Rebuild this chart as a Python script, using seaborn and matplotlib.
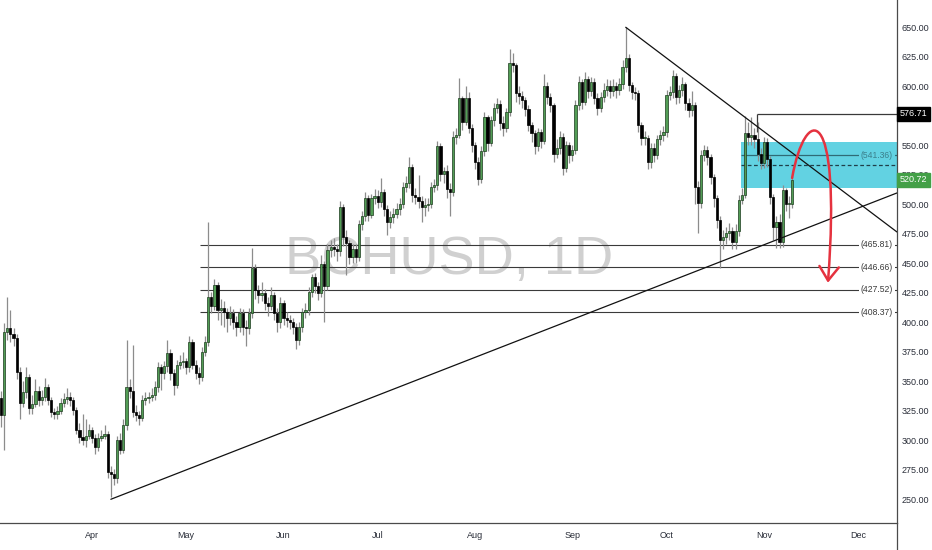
import numpy as np
import pandas as pd
import matplotlib
matplotlib.use("Agg")
import matplotlib.pyplot as plt
import matplotlib.dates as mdates
import matplotlib.transforms as mtransforms
from matplotlib.path import Path
from matplotlib.patches import FancyArrowPatch, Rectangle
from matplotlib.lines import Line2D
import seaborn as sns

# ---------------- data ----------------
start_date = "2021-03-03"
first_open = 336
closes = [
    321, 392, 395, 390, 387, 358, 332, 341, 354, 327,
    331, 342, 334, 337, 345, 334, 324, 322, 325, 332,
    335, 337, 334, 326, 309, 303, 300, 304, 309, 302,
    294, 302, 304, 305, 273, 271, 268, 300, 292, 313,
    345, 342, 324, 321, 319, 334, 336, 337, 338, 345,
    362, 357, 363, 374, 357, 347, 364, 366, 367, 362,
    383, 364, 357, 354, 375, 383, 421, 414, 432, 410,
    412, 409, 404, 408, 400, 396, 408, 396, 395, 408,
    446, 427, 423, 425, 416, 414, 423, 408, 400, 416,
    404, 402, 400, 396, 385, 396, 409, 410, 426, 438,
    431, 425, 449, 431, 461, 464, 462, 460, 498, 472,
    467, 455, 462, 455, 483, 490, 505, 491, 505, 507,
    502, 510, 496, 485, 489, 492, 496, 500, 515, 518,
    532, 508, 506, 503, 498, 499, 500, 515, 516, 549,
    526, 528, 513, 510, 557, 559, 590, 570, 590, 565,
    550, 536, 521, 545, 574, 552, 571, 582, 585, 569,
    565, 578, 620, 618, 594, 592, 588, 581, 567, 560,
    549, 561, 554, 600, 591, 584, 543, 548, 557, 531,
    550, 542, 546, 584, 604, 587, 606, 596, 604, 590,
    582, 591, 597, 600, 596, 600, 597, 602, 616, 624,
    601, 595, 594, 567, 556, 556, 536, 548, 542, 555,
    559, 561, 593, 595, 609, 591, 597, 602, 586, 580,
    584, 515, 501, 542, 546, 540, 523, 505, 487, 470,
    472, 476, 477, 468, 477, 504, 508, 560, 557, 559,
    555, 543, 535, 553, 538, 506, 481, 485, 468, 512,
    500, 500, 520.72,
]
highs = [
    342, 399, 421, 410, 395, 390, 362, 350, 362, 356,
    338, 352, 346, 343, 353, 348, 337, 327, 329, 336,
    340, 344, 341, 337, 328, 315, 322, 318, 314, 311,
    305, 306, 309, 313, 308, 278, 276, 304, 306, 318,
    385, 352, 381, 330, 325, 338, 341, 341, 344, 350,
    366, 365, 367, 385, 377, 360, 368, 372, 375, 370,
    388, 386, 368, 362, 379, 388, 485, 426, 437, 434,
    420, 418, 412, 414, 411, 405, 412, 411, 402, 412,
    463, 449, 432, 434, 428, 421, 430, 426, 412, 421,
    419, 409, 406, 404, 399, 400, 412, 416, 430, 441,
    442, 434, 457, 452, 466, 470, 471, 466, 503, 500,
    478, 470, 466, 466, 487, 494, 510, 508, 509, 513,
    512, 522, 513, 499, 494, 497, 501, 505, 519, 524,
    540, 534, 514, 525, 507, 505, 505, 519, 521, 554,
    552, 532, 533, 518, 562, 565, 607, 592, 600, 595,
    568, 553, 540, 549, 578, 576, 575, 586, 590, 588,
    575, 582, 632, 628, 620, 600, 596, 591, 584, 570,
    563, 565, 564, 610, 604, 594, 586, 555, 562, 560,
    554, 553, 550, 588, 609, 606, 612, 609, 608, 607,
    594, 595, 603, 606, 605, 606, 604, 607, 622, 650,
    627, 604, 599, 597, 570, 562, 559, 552, 552, 559,
    563, 566, 597, 600, 614, 611, 601, 608, 604, 590,
    596, 587, 520, 546, 550, 549, 543, 526, 508, 490,
    478, 481, 484, 481, 483, 508, 514, 575, 570, 574,
    565, 570, 548, 557, 556, 541, 509, 490, 492, 516,
    514, 507, 524,
]
lows = [
    311, 292, 385, 383, 380, 352, 318, 328, 336, 322,
    322, 328, 329, 330, 333, 330, 320, 318, 318, 322,
    328, 331, 329, 321, 305, 298, 296, 294, 301, 298,
    288, 291, 299, 301, 268, 252, 262, 264, 288, 289,
    309, 336, 320, 316, 313, 316, 330, 332, 333, 334,
    341, 343, 352, 358, 351, 338, 344, 360, 361, 356,
    358, 360, 352, 348, 350, 371, 380, 408, 410, 402,
    398, 396, 392, 398, 394, 388, 392, 389, 380, 390,
    404, 420, 416, 418, 410, 405, 410, 402, 392, 395,
    398, 396, 394, 390, 377, 381, 392, 404, 406, 421,
    425, 419, 421, 400, 427, 455, 456, 452, 456, 465,
    440, 449, 450, 450, 452, 478, 486, 486, 488, 500,
    497, 498, 490, 474, 480, 484, 488, 491, 497, 510,
    514, 502, 500, 497, 485, 490, 494, 497, 510, 512,
    520, 518, 505, 490, 507, 551, 556, 563, 567, 560,
    544, 530, 516, 518, 541, 545, 549, 566, 577, 563,
    558, 561, 575, 612, 587, 585, 582, 575, 562, 553,
    543, 545, 548, 551, 585, 578, 536, 539, 543, 525,
    527, 535, 537, 543, 580, 581, 584, 590, 592, 585,
    576, 578, 587, 592, 590, 592, 590, 593, 598, 612,
    596, 589, 588, 561, 550, 550, 530, 531, 536, 538,
    550, 554, 557, 588, 590, 585, 586, 592, 580, 574,
    575, 500, 476, 497, 537, 533, 517, 498, 480, 446,
    462, 466, 470, 462, 462, 473, 500, 505, 550, 550,
    548, 537, 530, 531, 532, 500, 470, 463, 463, 464,
    494, 488, 497,
]

y_ticks = [250, 275, 300, 325, 350, 375, 400, 425, 450, 475,
           500, 525, 550, 575, 600, 625, 650]
hidden_tick = 575               # covered by the 576.71 price tag in the reference
watermark = "BCHUSD, 1D"

support_levels = [465.81, 446.66, 427.52, 408.37]
level_start_day = 63.4          # days after start_date
zone_top, zone_bottom = 552.8, 513.8
zone_mid_level = 541.36
zone_dash_level = 533.5
zone_start_day = 235.7
swing_high = 576.71
swing_high_day = 240.8
swing_high_floor = 561
last_price = 520.72

asc_days, asc_prices = [35, 285.4], [250, 509.6]
desc_days, desc_prices = [199, 285.4], [650, 476.5]
arrow_days = [252, 256.1, 267.8, 263.4]
arrow_prices = [522.3, 584.2, 588.4, 433.5]

# ---------------- styling ----------------
sns.set_theme(style="white")
plt.rcParams["font.family"] = ["Liberation Sans", "DejaVu Sans"]

W, H = 932, 550
fig = plt.figure(figsize=(W / 100, H / 100), dpi=100)
ax_right_px, ax_bottom_px = 897, 523
ax = fig.add_axes([0, (H - ax_bottom_px) / H, ax_right_px / W, ax_bottom_px / H])
ax.set_facecolor("white")

n = len(closes)
x0 = mdates.date2num(pd.Timestamp(start_date))
xs = x0 + np.arange(n)
c = np.array(closes, dtype=float)
o = np.concatenate([[first_open], c[:-1]])
hi = np.maximum(np.array(highs, dtype=float), np.maximum(o, c))
lo = np.minimum(np.array(lows, dtype=float), np.minimum(o, c))

up = c >= o
body_bottom = np.minimum(o, c)
body_h = np.maximum(np.abs(c - o), 0.9)

ax.vlines(xs, lo, hi, color="#8c8c8c", lw=0.9, zorder=3)
ax.bar(xs[up], body_h[up], bottom=body_bottom[up], width=0.7,
       color="#529d55", edgecolor="#1d3b1e", linewidth=0.5, zorder=4)
ax.bar(xs[~up], body_h[~up], bottom=body_bottom[~up], width=0.7,
       color="#000000", edgecolor="#000000", linewidth=0.5, zorder=4)

x_left = x0 - 0.3
x_right = x0 + 285.4
ax.set_xlim(x_left, x_right)
ax.set_ylim(229.9, 673.1)

# zone
ax.add_patch(Rectangle((x0 + zone_start_day, zone_bottom), x_right - (x0 + zone_start_day),
                       zone_top - zone_bottom, facecolor="#62d2e2", edgecolor="none", zorder=1))
ax.hlines(zone_mid_level, x0 + zone_start_day, x_right, color="#2f6b76", lw=0.9, zorder=2)
ax.hlines(zone_dash_level, x0 + zone_start_day, x_right, color="#1f3f4a", lw=0.9,
          linestyles=(0, (3, 2)), zorder=2)

# horizontal support levels
ax.hlines(support_levels, x0 + level_start_day, x_right, color="#3a3a3a", lw=0.8, zorder=2)
label_x = x0 + 279.0
for lv in support_levels:
    ax.text(label_x, lv, f"({lv:.2f})", ha="center", va="center", fontsize=6.2,
            color="#3a3a3a", zorder=6,
            bbox=dict(boxstyle="square,pad=0.2", fc="white", ec="none"))
ax.text(label_x, zone_mid_level, f"({zone_mid_level:.2f})", ha="center", va="center",
        fontsize=6.2, color="#3b7f8b", zorder=6,
        bbox=dict(boxstyle="square,pad=0.2", fc="#62d2e2", ec="none"))

# swing high line
ax.hlines(swing_high, x0 + swing_high_day, x_right, color="#3a3a3a", lw=0.9, zorder=2)
ax.vlines(x0 + swing_high_day, swing_high_floor, swing_high, color="#3a3a3a", lw=0.9, zorder=2)

# trendlines
trend_df = pd.DataFrame({
    "x": np.concatenate([x0 + np.array(asc_days), x0 + np.array(desc_days)]),
    "price": asc_prices + desc_prices,
    "line": ["asc", "asc", "desc", "desc"],
})
for name, g in trend_df.groupby("line"):
    sns.lineplot(data=g, x="x", y="price", ax=ax, color="#111111", lw=0.9,
                 sort=False, estimator=None, zorder=5)

# red curved arrow
arrow_pts = np.column_stack([x0 + np.array(arrow_days), arrow_prices])
path = Path(arrow_pts, [Path.MOVETO, Path.CURVE4, Path.CURVE4, Path.CURVE4])
arrow = FancyArrowPatch(path=path, arrowstyle="->,head_length=1.0,head_width=0.7",
                        mutation_scale=10, color="#e5323f", lw=1.8,
                        shrinkA=0, shrinkB=0, zorder=7)
ax.add_patch(arrow)

# watermark
ax.text(0.5006, 0.503, watermark, transform=ax.transAxes, ha="center", va="center",
        fontsize=39, color="#d0d0d0", zorder=0)

# axes
ax.xaxis.set_major_locator(mdates.MonthLocator())
ax.xaxis.set_major_formatter(mdates.DateFormatter("%b"))
ax.yaxis.tick_right()
ax.set_yticks(y_ticks)
ax.set_yticklabels(["" if v == hidden_tick else f"{v:.2f}" for v in y_ticks])
ax.tick_params(axis="y", length=0, pad=3.5, labelsize=6.5, labelcolor="#2a2e39")
ax.tick_params(axis="x", length=0, pad=6, labelsize=6.5, labelcolor="#2a2e39")
ax.set_xlabel("")
ax.set_ylabel("")
ax.grid(False)
for side in ["left", "top"]:
    ax.spines[side].set_visible(False)
for side in ["right", "bottom"]:
    ax.spines[side].set_visible(True)
    ax.spines[side].set_color("#4a4a4a")
    ax.spines[side].set_linewidth(0.9)
fig.add_artist(Line2D([ax_right_px / W] * 2, [0, (H - ax_bottom_px) / H],
                      transform=fig.transFigure, color="#4a4a4a", lw=0.9))

# price boxes on the axis
tr = mtransforms.blended_transform_factory(ax.transAxes, ax.transData)
ax.text(1.003, swing_high, f"{swing_high:.2f}", transform=tr, ha="left", va="center",
        fontsize=6.5, color="white", clip_on=False, zorder=8,
        bbox=dict(boxstyle="square,pad=0.3", fc="#000000", ec="#000000"))
ax.text(1.003, last_price, f"{last_price:.2f}", transform=tr, ha="left", va="center",
        fontsize=6.5, color="white", clip_on=False, zorder=8,
        bbox=dict(boxstyle="square,pad=0.3", fc="#43a047", ec="#43a047"))

fig.savefig("out.png", dpi=100, facecolor="white")
